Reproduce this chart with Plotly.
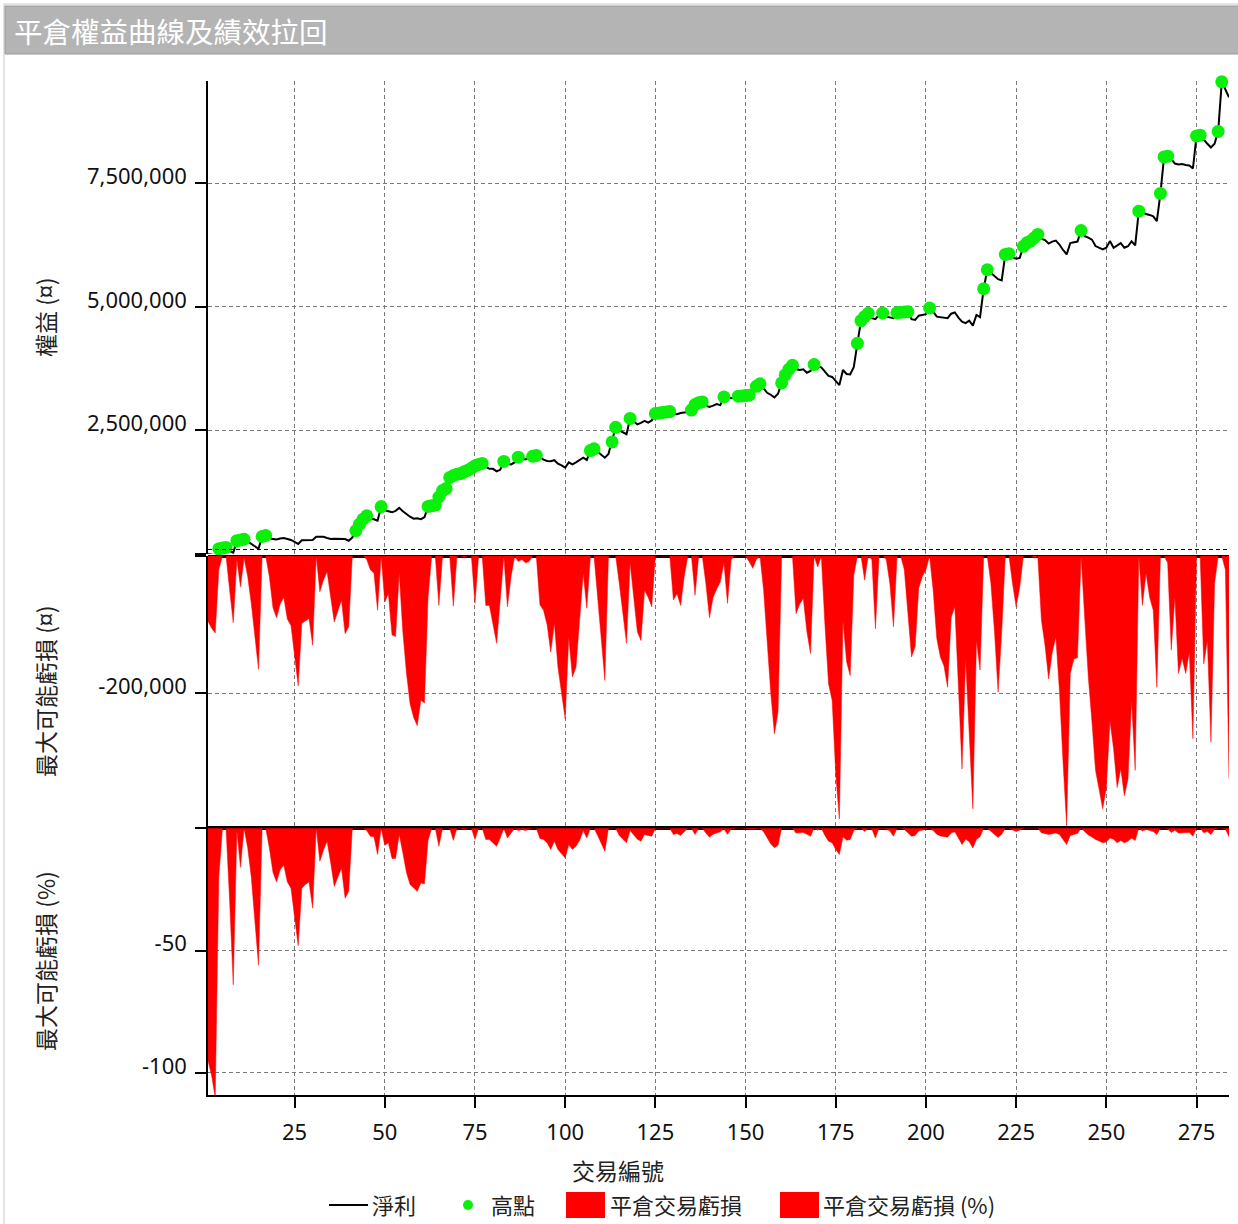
import plotly.graph_objects as go
from plotly.subplots import make_subplots

# ---------------- data ----------------
trade_no = list(range(1, 285))

# cumulative net profit (in thousands)
equity_k = [
    0, -15, -30, 100, 115, 130, 60, 20, 265, 280,
    295, 250, 200, 150, 100, 350, 370, 310, 300, 290,
    310, 320, 300, 280, 240, 200, 275, 280, 275, 280,
    345, 340, 345, 320, 300, 305, 300, 295, 300, 265,
    330, 470, 600, 700, 770, 720, 700, 670, 955, 880,
    860, 840, 870, 930, 860, 795, 750, 710, 720, 700,
    740, 960, 975, 985, 1150, 1280, 1320, 1545, 1585, 1610,
    1625, 1660, 1690, 1730, 1780, 1810, 1830, 1760, 1720, 1720,
    1670, 1700, 1870, 1820, 1810, 1850, 1955, 1930, 1910, 1945,
    1975, 1992, 1960, 1905, 1880, 1875, 1895, 1825, 1790, 1745,
    1850, 1810, 1850, 1900, 1945, 1900, 2090, 2125, 2070, 2010,
    1945, 2020, 2265, 2560, 2500, 2465, 2420, 2740, 2670, 2620,
    2650, 2690, 2655, 2700, 2840, 2850, 2860, 2870, 2880, 2830,
    2825, 2850, 2865, 2870, 2910, 3020, 3060, 3075, 3000, 2975,
    3000, 3030, 3010, 3175, 3160, 3150, 3165, 3190, 3195, 3205,
    3210, 3200, 3390, 3440, 3350, 3260, 3220, 3165, 3240, 3460,
    3620, 3735, 3815, 3740, 3720, 3735, 3665, 3700, 3830, 3790,
    3775, 3690, 3600, 3580, 3500, 3415, 3720, 3640, 3630, 3780,
    4260, 4720, 4800, 4870, 4770, 4750, 4840, 4875, 4800, 4780,
    4770, 4882, 4890, 4895, 4900, 4750, 4735, 4820, 4840, 4850,
    4975, 4900, 4800, 4790, 4775, 4770, 4860, 4885, 4780, 4700,
    4670, 4720, 4620, 4835, 4790, 5365, 5750, 5680, 5615, 5560,
    5535, 6060, 6075, 6000, 5975, 5990, 6225, 6295, 6330, 6395,
    6465, 6380, 6350, 6280, 6320, 6340, 6260, 6150, 6060, 6290,
    6300, 6320, 6545, 6430, 6400, 6360, 6230, 6190, 6160, 6195,
    6330, 6195, 6250, 6290, 6195, 6225, 6325, 6245, 6935, 6900,
    6880, 6860, 6830, 6735, 7295, 8035, 8050, 7990, 7900, 7880,
    7890, 7870, 7860, 7800, 8460, 8475, 8380, 8300, 8225, 8300,
    8550, 9555, 9400, 9240,
]

# maximum adverse excursion per closed trade (in thousands)
loss_k = [
    -95, -105, -112, -20, 0, 0, -50, -97, -5, -45,
    -3, -30, -69, -120, -165, 0, 0, -30, -75, -90,
    -70, -60, -92, -101, -145, -189, -98, -95, -91, -130,
    0, -52, -35, -23, -60, -96, -80, -64, -113, -103,
    0, 0, 0, 0, -5, -20, -25, -79, 0, -67,
    -55, -115, -117, -25, -110, -170, -215, -235, -247, -210,
    -214, -60, 0, 0, -72, 0, 0, 0, -73, 0,
    0, -2, 0, 0, -69, 0, 0, -72, -72, -100,
    -127, -64, 0, -74, -30, 0, -8, -5, -10, -8,
    0, 0, -71, -79, -100, -140, -98, -162, -200, -237,
    -118, -176, -162, -98, -25, -76, 0, 0, -60, -120,
    -181, 0, 0, 0, -40, -80, -127, -10, -60, -110,
    -123, -50, -60, -74, 0, 0, 0, 0, 0, -64,
    -55, -72, -30, 0, 0, -57, 0, 0, -40, -90,
    -60, -48, -38, -10, -69, -5, 0, 0, 0, 0,
    -8, -18, -5, 0, -50, -130, -200, -259, -227, 0,
    0, 0, 0, -84, -70, -62, -110, -142, 0, -16,
    0, -100, -186, -210, -317, -383, -93, -154, -174, -28,
    0, 0, -35, 0, -5, -106, 0, 0, -5, -40,
    -103, 0, 0, -20, -90, -147, -132, -47, -30, -20,
    0, -50, -120, -147, -160, -191, -89, -74, -190, -310,
    -150, -260, -368, -123, -166, 0, 0, -40, -110, -198,
    -110, 0, 0, -40, -74, -45, 0, 0, 0, -3,
    0, -93, -130, -179, -140, -118, -196, -300, -393, -171,
    -150, -148, 0, -90, -176, -240, -312, -340, -368, -337,
    -240, -280, -337, -310, -349, -325, -210, -312, 0, -72,
    -25, -60, -79, -191, 0, 0, -10, -137, -60, -171,
    -149, -171, -140, -266, 0, 0, -157, -123, -271, -40,
    0, 0, -20, -324,
]

# maximum adverse excursion in percent
loss_pct = [
    -95, -101, -110, -20, 0, 0, -30, -64, -1, -16,
    0, -8, -20, -38, -56, 0, 0, -8, -18, -22,
    -17, -15, -22, -24.5, -36, -48, -24.5, -23, -22, -32.7,
    0, -13.5, -9, -5.3, -14, -23.8, -20, -16.3, -28.6, -25.8,
    0, 0, 0, 0, -1, -3.3, -3.5, -10.8, 0, -7,
    -6, -12.4, -12.4, -2.6, -10, -18, -23, -24.5, -25.8, -22.4,
    -22.8, -5, 0, 0, -7.4, 0, 0, 0, -5, 0,
    0, -0.5, 0, 0, -4.6, 0, 0, -4.6, -4.6, -6,
    -7.4, -4, 0, -4, -2, 0, -1, -0.5, -1, -0.5,
    0, 0, -4.2, -4.6, -6, -8.7, -5.3, -8.7, -10.5, -12.2,
    -6.7, -8.7, -7.4, -5, -1, -4, 0, 0, -3, -6,
    -9.4, 0, 0, 0, -3, -4.5, -6, -1, -3, -4.5,
    -5.3, -2.6, -3, -3.3, 0, 0, 0, 0, 0, -2.6,
    -2.2, -3, -1.3, 0, 0, -2.6, 0, 0, -2, -3.7,
    -2.5, -2, -1.5, -0.3, -2.5, -0.3, 0, 0, 0, 0,
    -0.3, -0.5, -0.2, 0, -1.5, -4, -6.5, -8, -7, 0,
    0, 0, 0, -2, -1.8, -1.8, -2.5, -3.3, 0, -0.8,
    0, -3, -5.3, -6, -8.7, -10.8, -3.5, -4.9, -4.6, -1,
    0, 0, -1.4, 0, -0.3, -4, 0, 0, -0.3, -1.2,
    -3.3, 0, 0, -0.5, -2, -3.3, -3, -1.2, -0.8, -0.5,
    0, -1, -2.5, -3.2, -3.5, -3.7, -2, -1.5, -4, -6.7,
    -4.5, -5.5, -8.1, -4.6, -3.5, 0, 0, -1.2, -2.5, -3.8,
    -2.5, 0, 0, -0.8, -1.4, -0.8, 0, 0, 0, -0.2,
    0, -1.9, -2.2, -2.6, -2.3, -2, -2.6, -4.5, -6.7, -3,
    -2.5, -2.2, 0, -1.5, -2.8, -3.6, -4.6, -5.2, -6, -5.6,
    -4, -4.5, -6, -5, -6, -5.3, -4, -5, 0, -1.2,
    -0.5, -1, -1.4, -2.6, 0, 0, -0.3, -1.8, -0.8, -2,
    -1.9, -2, -1.8, -3.3, 0, 0, -1.9, -1.4, -2.6, -0.5,
    0, 0, -0.3, -3.5,
]

x_ticks = [25, 50, 75, 100, 125, 150, 175, 200, 225, 250, 275]
eq_ticks = [0, 2500000, 5000000, 7500000]
eq_tick_text = ["", "2,500,000", "5,000,000", "7,500,000"]
loss_ticks = [0, -200000]
loss_tick_text = ["", "-200,000"]
pct_ticks = [0, -50, -100]
pct_tick_text = ["", "-50", "-100"]

title_text = "平倉權益曲線及績效拉回"
y_titles = ["權益 (¤)", "最大可能虧損 (¤)", "最大可能虧損 (%)"]
x_title = "交易編號"
legend_names = ["淨利", "高點", "平倉交易虧損", "平倉交易虧損 (%)"]

# ---------------- derived series ----------------
equity = [v * 1000 for v in equity_k]
loss = [v * 1000 for v in loss_k]

high_x, high_y = [], []
run_max = 0
for xv, yv in zip(trade_no, equity):
    if yv > run_max:
        run_max = yv
        high_x.append(xv)
        high_y.append(yv)

# ---------------- geometry helpers (pixel -> paper) ----------------
W, H = 1238, 1224
L, R, T, B = 208, 1229, 81, 1095
PW, PH = R - L, B - T


def px(x):
    return (x - L) / PW


def py(y):
    return (B - y) / PH


CJK = "Noto Sans CJK TC, Noto Sans, sans-serif"
NUM = "Noto Sans, sans-serif"
RED = "#ff0000"
GREEN = "#0af00a"

fig = make_subplots(rows=3, cols=1, shared_xaxes=True, vertical_spacing=0)

fig.add_trace(go.Scatter(x=trade_no, y=equity, mode="lines", name=legend_names[0],
                         line=dict(color="black", width=2)), row=1, col=1)
fig.add_trace(go.Scatter(x=high_x, y=high_y, mode="markers", name=legend_names[1],
                         marker=dict(color=GREEN, size=13, line=dict(width=0)),
                         cliponaxis=False), row=1, col=1)
fig.add_trace(go.Scatter(x=trade_no, y=loss, mode="lines", name=legend_names[2],
                         fill="tozeroy", fillcolor=RED, line=dict(color=RED, width=0.5)),
              row=2, col=1)
fig.add_trace(go.Scatter(x=trade_no, y=loss_pct, mode="lines", name=legend_names[3],
                         fill="tozeroy", fillcolor=RED, line=dict(color=RED, width=0.5)),
              row=3, col=1)

grid = dict(showgrid=True, gridcolor="#7a7a7a", griddash="4px,3px", gridwidth=1)
tickfont = dict(family=NUM, size=22, color="#111111")

for i in (1, 2, 3):
    fig.update_xaxes(row=i, col=1, range=[1, 284], tickvals=x_ticks, **grid,
                     zeroline=False, showline=False, showticklabels=False, ticks="")
fig.update_xaxes(row=3, col=1, showticklabels=True, ticks="outside", ticklen=11,
                 tickwidth=1.5, tickcolor="black", showline=True, linecolor="black",
                 linewidth=1.5, tickfont=tickfont, ticklabelstandoff=6)

yax_common = dict(showline=True, linecolor="black", linewidth=1.5, ticks="outside",
                  ticklen=11, tickwidth=1.5, tickcolor="black", tickfont=tickfont,
                  ticklabelstandoff=4, ticklabelshift=-7, **grid)
fig.update_yaxes(row=1, col=1, range=[0, 9571000], tickvals=eq_ticks,
                 ticktext=eq_tick_text, zeroline=False, **yax_common)
fig.update_yaxes(row=2, col=1, range=[-394000, 0], tickvals=loss_ticks,
                 ticktext=loss_tick_text, zeroline=True, zerolinecolor="black",
                 zerolinewidth=3, **yax_common)
fig.update_yaxes(row=3, col=1, range=[-109, 0.6], tickvals=pct_ticks,
                 ticktext=pct_tick_text, zeroline=True, zerolinecolor="black",
                 zerolinewidth=4, **yax_common)

fig.update_layout(
    yaxis=dict(domain=[py(553.8), 1.0]),
    yaxis2=dict(domain=[py(826.7), py(556)]),
    yaxis3=dict(domain=[0.0, py(826.7)]),
)

shapes = []
# outer frame and title bar
shapes.append(dict(type="rect", xref="paper", yref="paper", x0=px(4), x1=px(1240),
                   y0=py(1226), y1=py(4), line=dict(color="#c8c8c8", width=1),
                   fillcolor="rgba(0,0,0,0)", layer="below"))
shapes.append(dict(type="rect", xref="paper", yref="paper", x0=px(5), x1=px(1240),
                   y0=py(54), y1=py(6), line=dict(color="#9a9a9a", width=1),
                   fillcolor="#b4b4b4", layer="below"))
# dashed line just above the zero of the equity panel
shapes.append(dict(type="line", xref="paper", yref="paper", x0=0, x1=1,
                   y0=py(549.5), y1=py(549.5),
                   line=dict(color="black", width=1, dash="4px,3px")))
# custom legend symbols
ly = 1205
shapes.append(dict(type="line", xref="paper", yref="paper", x0=px(329), x1=px(368),
                   y0=py(ly), y1=py(ly), line=dict(color="black", width=2)))
shapes.append(dict(type="circle", xref="paper", yref="paper", x0=px(463), x1=px(473),
                   y0=py(ly + 5), y1=py(ly - 5), line=dict(width=0), fillcolor=GREEN))
shapes.append(dict(type="rect", xref="paper", yref="paper", x0=px(566), x1=px(605),
                   y0=py(1218), y1=py(1192), line=dict(width=0), fillcolor=RED))
shapes.append(dict(type="rect", xref="paper", yref="paper", x0=px(780), x1=px(819),
                   y0=py(1218), y1=py(1192), line=dict(width=0), fillcolor=RED))

ann = []
ann.append(dict(text=title_text, xref="paper", yref="paper", x=px(12), y=py(30),
                xanchor="left", yanchor="middle", showarrow=False,
                font=dict(family=CJK, size=28.5, color="white")))
for t, yc in zip(y_titles, [318, 692, 961]):
    ann.append(dict(text=t, xref="paper", yref="paper", x=px(45), y=py(yc),
                    xanchor="center", yanchor="middle", textangle=-90, showarrow=False,
                    font=dict(family=CJK, size=23, color="#222222")))
ann.append(dict(text=x_title, xref="paper", yref="paper", x=px(618), y=py(1170),
                xanchor="center", yanchor="middle", showarrow=False,
                font=dict(family=CJK, size=23, color="#222222")))
for t, xl in zip(legend_names, [370, 489, 608, 821]):
    ann.append(dict(text=t, xref="paper", yref="paper", x=px(xl), y=py(ly - 1),
                    xanchor="left", yanchor="middle", showarrow=False,
                    font=dict(family=CJK, size=22, color="#222222")))

fig.update_layout(
    width=W, height=H,
    margin=dict(l=L, r=W - R, t=T, b=H - B, autoexpand=False),
    paper_bgcolor="white", plot_bgcolor="white",
    showlegend=False,
    shapes=shapes, annotations=ann,
)

fig.write_html("out.html")
